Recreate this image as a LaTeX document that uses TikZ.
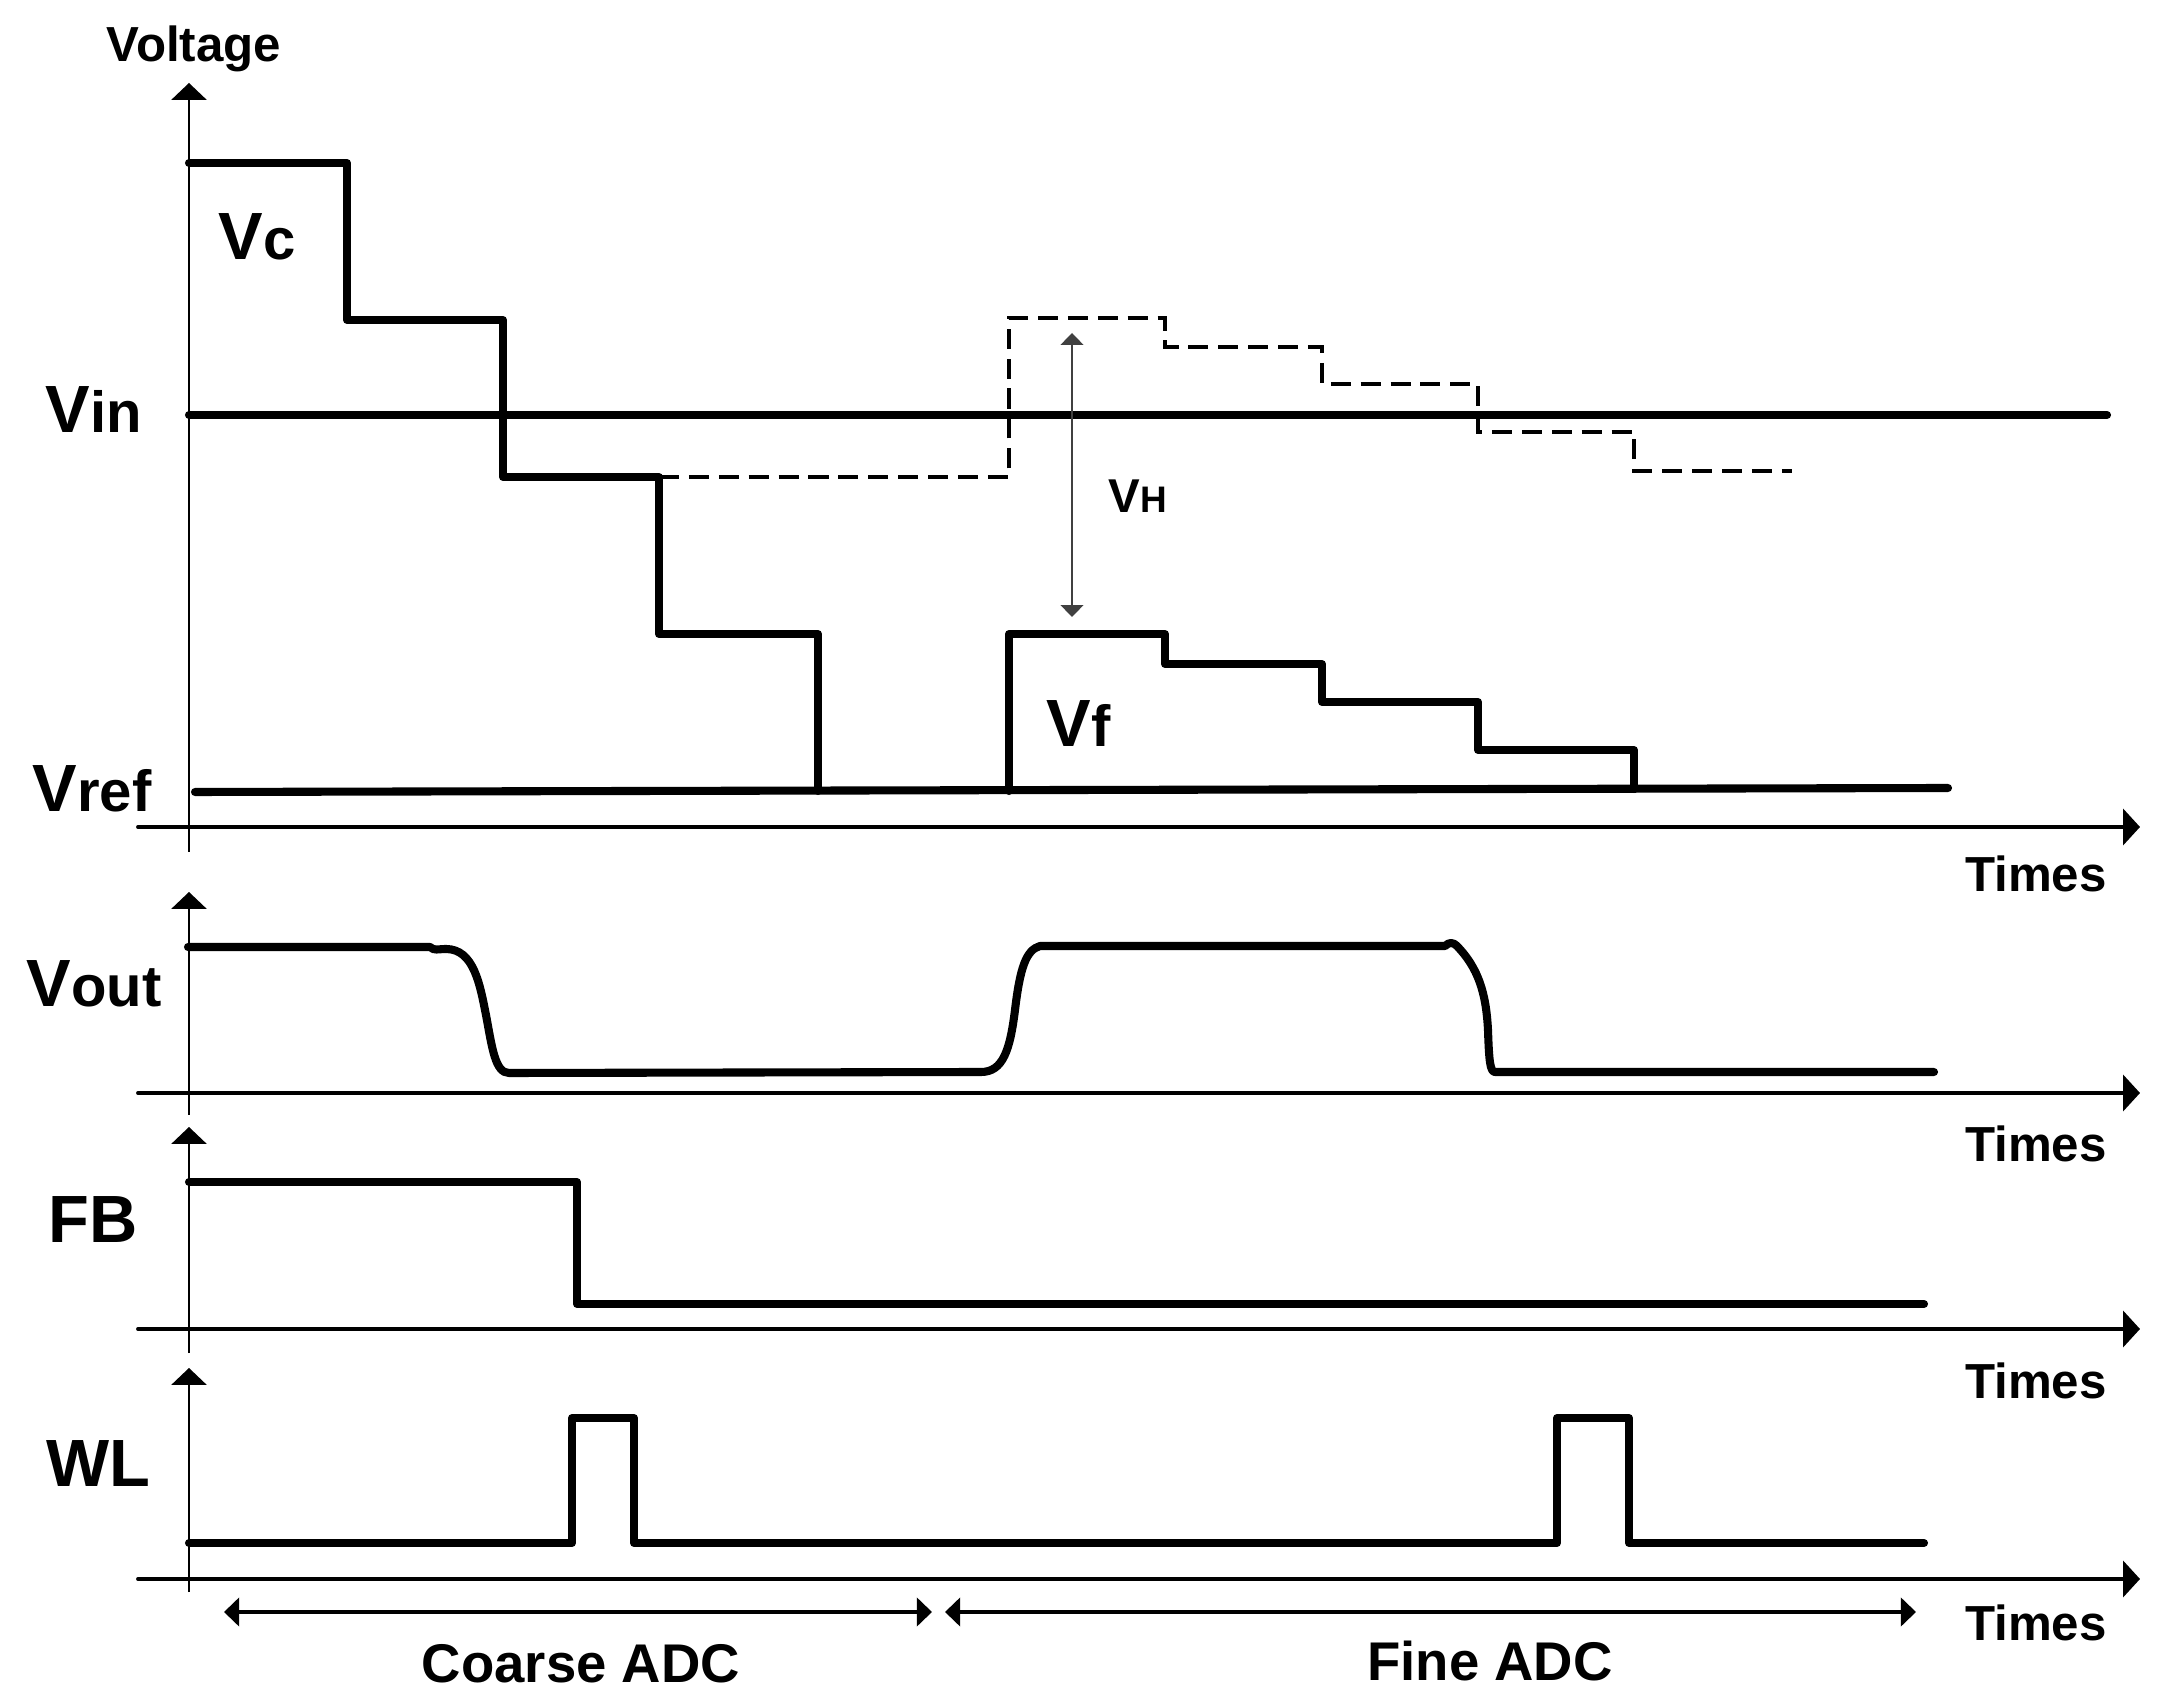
\documentclass[tikz,border=0pt]{standalone}
\usepackage{fontspec}
\setmainfont{Liberation Sans}
\usetikzlibrary{arrows.meta}
\newcommand{\lblbig}{\fontsize{19pt}{19pt}\selectfont}
\newcommand{\lblsub}{\fontsize{16.5pt}{16.5pt}\selectfont}
\newcommand{\lblmid}{\fontsize{14pt}{14pt}\selectfont}
\newcommand{\lbladc}{\fontsize{15.5pt}{15.5pt}\selectfont}
\begin{document}
\begin{tikzpicture}[x=0.01cm,y=-0.01cm,
  sig/.style={line width=2.3pt, line cap=round, line join=round},
  taxis/.style={line width=1.1pt, line cap=round, -{Triangle[length=4.8pt,width=10.2pt]}},
  vaxis/.style={line width=0.45pt, -{Triangle[length=4.8pt,width=10pt]}},
  dsh/.style={line width=1.1pt, dash pattern=on 5.7pt off 2.8pt},
  span/.style={line width=1.1pt, {Triangle[length=4.3pt,width=8pt]}-{Triangle[length=4.3pt,width=8pt]}},
  vharrow/.style={line width=0.4pt, draw=black!75, {Triangle[length=3.4pt,width=6.5pt]}-{Triangle[length=3.4pt,width=6.5pt]}},
  lbl/.style={inner sep=0pt, font=\bfseries}]
\useasboundingbox (0,0) rectangle (2166,1707);

% ---------- axes ----------
\coordinate (ya0) at (189,852);  \coordinate (ya1) at (189,83);
\coordinate (yb0) at (189,1115); \coordinate (yb1) at (189,892);
\coordinate (yc0) at (189,1353); \coordinate (yc1) at (189,1127);
\coordinate (yd0) at (189,1592); \coordinate (yd1) at (189,1368);
\draw[vaxis] (ya0) -- (ya1);
\draw[vaxis] (yb0) -- (yb1);
\draw[vaxis] (yc0) -- (yc1);
\draw[vaxis] (yd0) -- (yd1);

\coordinate (ta0) at (138,827);  \coordinate (ta1) at (2140,827);
\coordinate (tb0) at (138,1093); \coordinate (tb1) at (2140,1093);
\coordinate (tc0) at (138,1329); \coordinate (tc1) at (2140,1329);
\coordinate (td0) at (138,1579); \coordinate (td1) at (2140,1579);
\draw[taxis] (ta0) -- (ta1);
\draw[taxis] (tb0) -- (tb1);
\draw[taxis] (tc0) -- (tc1);
\draw[taxis] (td0) -- (td1);

\node[lbl, anchor=base, font=\bfseries\lblmid] (tl1) at (2036,892) {Times};
\node[lbl, anchor=base, font=\bfseries\lblmid] (tl2) at (2036,1162) {Times};
\node[lbl, anchor=base, font=\bfseries\lblmid] (tl3) at (2036,1398) {Times};
\node[lbl, anchor=base, font=\bfseries\lblmid] (tl4) at (2036,1640) {Times};
\node[lbl, anchor=base, font=\bfseries\lblmid] (volt) at (194,62) {Voltage};

% ---------- top panel ----------
\draw[sig] (189,415) -- (2107,415);
\draw[sig] (195,792) -- (1948,788);
\draw[sig] (189,163) -- (347,163) -- (347,320) -- (503,320) -- (503,477)
  -- (659,477) -- (659,634) -- (818,634) -- (818,791);
\draw[dsh] (659,477) -- (1009,477) -- (1009,318) -- (1165,318) -- (1165,347)
  -- (1322,347) -- (1322,384) -- (1478,384) -- (1478,432) -- (1634,432)
  -- (1634,471) -- (1792,471);
\draw[sig] (1009,791) -- (1009,634) -- (1165,634) -- (1165,664) -- (1322,664)
  -- (1322,702) -- (1478,702) -- (1478,750) -- (1634,750) -- (1634,789);
\coordinate (vhtop) at (1072,333);
\coordinate (vhbot) at (1072,617);
\draw[vharrow] (vhtop) -- (vhbot);

\node[lbl, anchor=base west] (vc) at (218,260) {\lblbig V\lblsub c};
\node[lbl, anchor=base west] (vin) at (45,433) {\lblbig V\lblsub in};
\node[lbl, anchor=base west] (vref) at (32,812) {\lblbig V\lblsub ref};
\node[lbl, anchor=base west] (vf) at (1046,747) {\lblbig V\lblsub f};
\node[lbl, anchor=base west] (vh) at (1108,513) {\fontsize{13.5pt}{13.5pt}\selectfont V\fontsize{10.5pt}{10.5pt}\selectfont H};

% ---------- Vout ----------
\draw[sig] (188,947) -- (430,947) .. controls (434,951) and (438,949) .. (446,949)
  .. controls (474,949) and (480,985) .. (486,1015)
  .. controls (492,1047) and (495,1073) .. (509,1073)
  -- (981,1072) .. controls (1003,1072) and (1010,1050) .. (1015,1010)
  .. controls (1020,968) and (1026,950) .. (1040,946)
  -- (1445,946) .. controls (1449,942) and (1453,942) .. (1457,946)
  .. controls (1478,968) and (1486,992) .. (1488,1030)
  .. controls (1489,1060) and (1490,1072) .. (1495,1072)
  -- (1934,1072);
\node[lbl, anchor=base west] (vout) at (26,1007) {\lblbig V\lblsub out};

% ---------- FB ----------
\draw[sig] (189,1182) -- (577,1182) -- (577,1304) -- (1924,1304);
\node[lbl, anchor=base west] (fb) at (48,1243) {\lblbig FB};

% ---------- WL ----------
\draw[sig] (189,1543) -- (572,1543) -- (572,1418) -- (634,1418) -- (634,1543)
  -- (1557,1543) -- (1557,1418) -- (1629,1418) -- (1629,1543) -- (1924,1543);
\node[lbl, anchor=base west] (wl) at (46,1486) {\lblbig WL};

% ---------- spans ----------
\coordinate (ca) at (224,1612); \coordinate (cb) at (932,1612);
\coordinate (fa) at (945,1612); \coordinate (fb2) at (1916,1612);
\draw[span] (ca) -- (cb);
\draw[span] (fa) -- (fb2);
\node[lbl, anchor=base, font=\bfseries\lbladc] (coarse) at (581,1682) {Coarse ADC};
\node[lbl, anchor=base, font=\bfseries\lbladc] (fine) at (1490,1680) {Fine ADC};
\end{tikzpicture}
\end{document}
